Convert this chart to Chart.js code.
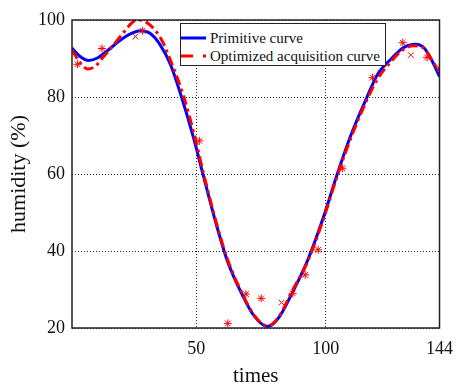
<!DOCTYPE html>
<html>
<head>
<meta charset="utf-8">
<script src="https://cdn.jsdelivr.net/npm/chart.js@4.4.0/dist/chart.umd.min.js"></script>
<style>
body{margin:0;background:#fff;}
#wrap{position:relative;width:463px;height:385px;}
#legend{
    position:absolute;left:180px;top:23px;width:204px;
    border:1.5px solid #222;background:#fff;
    font-family:"Liberation Serif",serif;font-size:15px;color:#111;
    padding-top:5px;box-sizing:content-box;height:36px;
}
.row{display:flex;align-items:center;height:18px;white-space:nowrap;}
.row svg{margin-right:4px;flex:none;}
</style>
</head>
<body>
<div id="wrap">
    <canvas id="humChart" width="463" height="385"></canvas>
    <div id="legend">
        <div class="row">
            <svg width="25" height="4"><line x1="0" y1="2" x2="25" y2="2" stroke="#0000ff" stroke-width="3"/></svg>
            <span>Primitive curve</span>
        </div>
        <div class="row">
            <svg width="25" height="4"><line x1="0" y1="2" x2="25" y2="2" stroke="#ff0000" stroke-width="3" stroke-dasharray="12,10,3,10"/></svg>
            <span>Optimized acquisition curve</span>
        </div>
    </div>
</div>
<script>
/* DATA */

const xTicks = [50, 100, 144];
const yTicks = [20, 40, 60, 80, 100];

const blueT = [2, 5, 8.5, 12, 16, 20, 24, 28.5, 32, 36, 40, 44.5, 49, 52.5, 57.3, 62, 67.5, 72.5, 77.5, 82, 87, 93, 99, 104.5, 110, 116, 120, 125.5, 130, 134.8, 138, 140.5, 142, 144];
const blueV = [92.7, 90.6, 89.5, 90.2, 92.2, 94.4, 96.2, 97.2, 96.6, 93.6, 88.5, 79.6, 69.3, 60.2, 48, 37.5, 29, 23, 20.4, 22.8, 29, 37.5, 48.5, 60, 70.5, 80, 85.8, 90, 92.8, 93.7, 92.8, 90.2, 88.2, 85.3];

const redT = [2, 5, 8, 11, 14, 18, 22, 25.5, 28, 32, 36.5, 40, 45.2, 49.5, 52.8, 57.5, 62, 67.5, 72.5, 77.5, 82, 87, 93, 99, 104.5, 110, 116, 120, 125.5, 130, 134, 138, 141, 144];
const redV = [92.2, 89, 87.3, 88, 90.3, 93.5, 96.8, 99.5, 100, 98.8, 95, 89.6, 80, 69.5, 60.2, 48, 38, 29.3, 23.2, 20.5, 23, 29.5, 37.2, 48, 59.5, 69.8, 79.3, 84.6, 89.4, 92.3, 93.3, 92.6, 89.6, 86.6];

const markT = [4.1, 13.6, 26.5, 29.3, 51.2, 62.2, 69.2, 75.1, 83.0, 87.3, 92.1, 97.1, 106.5, 118.1, 129.8, 132.9, 139.2, 143.9];
const markV = [88.5, 92.6, 95.7, 97.2, 68.6, 21.2, 28.8, 27.7, 26.6, 29.0, 33.8, 40.3, 61.5, 85.0, 94.1, 90.9, 90.3, 87.5];
const markShape = ['star', 'star', 'crossRot', 'star', 'star', 'star', 'star', 'star', 'crossRot', 'star', 'star', 'star', 'star', 'star', 'star', 'crossRot', 'star', 'star'];

function toPoints(xs, ys){
    return xs.map((x, i) => ({x: x, y: ys[i]}));
}

/* BOX AROUND PLOT */

const boxPlugin = {
    id: "box",
    afterDraw(chart){
        const a = chart.chartArea;
        const c = chart.ctx;
        c.save();
        c.strokeStyle = "#222";
        c.lineWidth = 1.5;
        c.strokeRect(a.left, a.top, a.right - a.left, a.bottom - a.top);
        c.restore();
    }
};

const serif = "'Liberation Serif', 'Times New Roman', serif";

const ctx = document.getElementById("humChart");

new Chart(ctx, {
    type: "scatter",
    data: {
        datasets: [
            {
                label: "acquired points",
                data: toPoints(markT, markV),
                pointStyle: markShape,
                pointRadius: 4,
                pointBorderWidth: 1,
                borderColor: "#ff0000",
                backgroundColor: "#ff0000",
                showLine: false,
                order: 0
            },
            {
                label: "Optimized acquisition curve",
                data: toPoints(redT, redV),
                showLine: true,
                borderColor: "#ff0000",
                borderWidth: 3,
                borderDash: [10, 4, 3, 4],
                pointRadius: 0,
                cubicInterpolationMode: "monotone",
                order: 1
            },
            {
                label: "Primitive curve",
                data: toPoints(blueT, blueV),
                showLine: true,
                borderColor: "#0000ff",
                borderWidth: 3,
                pointRadius: 0,
                cubicInterpolationMode: "monotone",
                order: 2
            }
        ]
    },
    options: {
        responsive: false,
        animation: false,
        events: [],
        layout: {
            padding: {left: 0, right: 14, top: 20, bottom: 0}
        },
        plugins: {
            legend: {display: false},
            tooltip: {enabled: false}
        },
        scales: {
            x: {
                type: "linear",
                min: 2,
                max: 144,
                afterBuildTicks: (scale) => {
                    scale.ticks = xTicks.map(v => ({value: v}));
                },
                afterFit: (scale) => { scale.height = 57; },
                ticks: {
                    padding: 10,
                    color: "#111",
                    font: {family: serif, size: 18}
                },
                grid: {color: "#222", lineWidth: 1, drawTicks: false},
                border: {display: false, dash: [1, 2]},
                title: {
                    display: true,
                    text: "times",
                    color: "#111",
                    font: {family: serif, size: 21, lineHeight: 0.85},
                    padding: 0
                }
            },
            y: {
                min: 20,
                max: 100,
                afterBuildTicks: (scale) => {
                    scale.ticks = yTicks.map(v => ({value: v}));
                },
                afterFit: (scale) => { scale.width = 72; },
                ticks: {
                    padding: 7,
                    color: "#111",
                    font: {family: serif, size: 18}
                },
                grid: {color: "#222", lineWidth: 1, drawTicks: false},
                border: {display: false, dash: [1, 2]},
                title: {
                    display: true,
                    text: "humidity (%)",
                    color: "#111",
                    font: {family: serif, size: 22},
                    padding: {top: 6, bottom: 0}
                }
            }
        }
    },
    plugins: [boxPlugin]
});
</script>
</body>
</html>
